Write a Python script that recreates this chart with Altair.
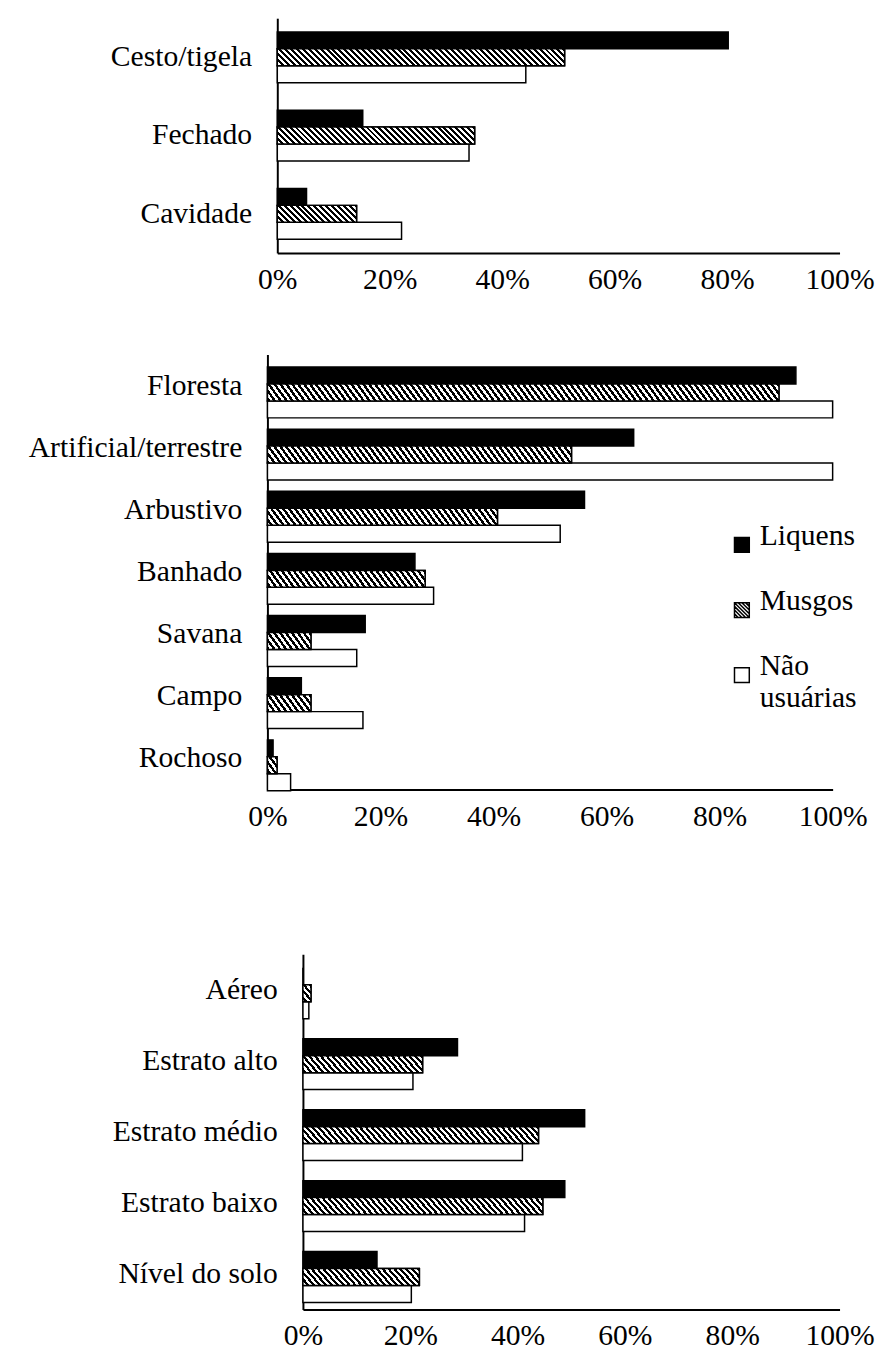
import altair as alt

FONT = "Liberation Serif"
FS = 30

series = ["Liquens", "Musgos", "Não usuárias"]
series_fill = ["#000000", "#ffffff", "#ffffff"]

ninho_cats = ["Cesto/tigela", "Fechado", "Cavidade"]
ninho_liquens = [80.2, 15.2, 5.2]
ninho_musgos = [51.1, 35.1, 14.1]
ninho_nao = [44.2, 34.1, 22.1]

hab_cats = ["Floresta", "Artificial/terrestre", "Arbustivo", "Banhado",
            "Savana", "Campo", "Rochoso"]
hab_liquens = [93.5, 64.8, 56.1, 26.1, 17.3, 6.0, 1.0]
hab_musgos = [90.5, 53.8, 40.7, 27.9, 7.7, 7.7, 1.7]
hab_nao = [100.0, 100.0, 51.8, 29.4, 15.8, 16.9, 4.1]

estr_cats = ["Aéreo", "Estrato alto", "Estrato médio", "Estrato baixo",
             "Nível do solo"]
estr_liquens = [0.0, 28.8, 52.5, 48.8, 13.8]
estr_musgos = [1.5, 22.3, 43.9, 44.7, 21.7]
estr_nao = [1.1, 20.5, 40.9, 41.3, 20.2]

tick_values = [0, 20, 40, 60, 80, 100]


def hatch(w, h, period=6.0, frac=0.5):
    """Diagonal stripe fill (style only) as a linear gradient in bbox units."""
    w = max(w, 1.0)
    L = w + h
    stops = []
    k = 0
    while k * period < L:
        a = k * period / L
        b = min((k * period + frac * period) / L, 1.0)
        c = min((k + 1) * period / L, 1.0)
        stops += [
            {"offset": round(a, 5), "color": "#000000"},
            {"offset": round(b, 5), "color": "#000000"},
            {"offset": round(b, 5), "color": "#ffffff"},
            {"offset": round(c, 5), "color": "#ffffff"},
        ]
        k += 1
    r = h / w
    ga = (1 + r) / (1 + r * r)
    gb = ga * r
    return {"gradient": "linear", "x1": 1, "y1": 0, "x2": 1 - ga, "y2": gb,
            "stops": stops}


def hatch_symbol():
    """Legend glyph: unit square with downward diagonal lines."""
    parts = ["M-1,-1H1V1H-1Z"]
    for c in (-1.5, -1.0, -0.5, 0.0, 0.5, 1.0, 1.5):
        if c >= 0:
            parts.append(f"M-1,{-1 + c:.3f}L{1 - c:.3f},1")
        else:
            parts.append(f"M{-1 - c:.3f},-1L1,{1 + c:.3f}")
    return "".join(parts)


series_shape = ["square", hatch_symbol(), "square"]


def panel(cats, liq, mus, nao, d, w, h, pi, po, legend=None):
    n = len(cats)
    step = h / (n - pi + 2 * po)
    bar_h = step * (1 - pi) / 3
    recs = []
    for i, c in enumerate(cats):
        for s, vals in zip(series, (liq, mus, nao)):
            rec = {"cat": c, "series": s, "value": vals[i]}
            if s == "Musgos":
                rec["hatch"] = hatch(vals[i] / 100 * w, bar_h)
            recs.append(rec)
    base = alt.Chart(alt.Data(values=recs))
    x = alt.X("value:Q",
              scale=alt.Scale(domain=[0, 100], range=[d, d + w]),
              axis=alt.Axis(values=tick_values, labelExpr="datum.value + '%'",
                            grid=False, ticks=False, domainColor="black",
                            domainWidth=2, labelFont=FONT, labelFontSize=FS,
                            labelColor="black", labelPadding=12,
                            labelFlush=False, labelOverlap=False, title=None))
    y = alt.Y("cat:N",
              scale=alt.Scale(domain=cats, paddingInner=pi, paddingOuter=po),
              axis=alt.Axis(offset=-d, ticks=False, domainColor="black",
                            domainWidth=2, labelFont=FONT, labelFontSize=FS,
                            labelColor="black", labelPadding=26,
                            labelLimit=500, title=None))
    yo = alt.YOffset("series:N",
                     scale=alt.Scale(domain=series, paddingInner=0,
                                     paddingOuter=0))
    fill = alt.Fill("series:N",
                    scale=alt.Scale(domain=series, range=series_fill),
                    legend=legend)
    bars = base.mark_bar(stroke="black", strokeWidth=1.5).encode(
        x=x, y=y, yOffset=yo, fill=fill)
    hatched = base.transform_filter(alt.datum.series == "Musgos").mark_bar(
        stroke="black", strokeWidth=1.5).encode(
        x=x, y=y, yOffset=yo, fill=alt.Fill("hatch:N", scale=None))
    layers = [bars, hatched]
    if legend is not None:
        # carries only the legend glyph shapes; draws no marks
        glyphs = base.transform_filter("false").mark_point(
            filled=True, opacity=1, stroke="black").encode(
            x=x, y=y, fill=fill,
            shape=alt.Shape("series:N",
                            scale=alt.Scale(domain=series, range=series_shape),
                            legend=legend))
        layers.append(glyphs)
    return alt.layer(*layers).properties(width=d + w, height=h)


leg = alt.Legend(title=None, orient="none", legendX=466, legendY=178,
                 direction="vertical", symbolSize=225,
                 symbolStrokeColor="black", symbolStrokeWidth=1.5,
                 labelFont=FONT, labelFontSize=FS, labelColor="black",
                 labelBaseline="alphabetic", labelOffset=3, rowPadding=31,
                 padding=0, labelLimit=300,
                 labelExpr="datum.label == 'Não usuárias' ? ['Não', 'usuárias'] : datum.label")

p1 = panel(ninho_cats, ninho_liquens, ninho_musgos, ninho_nao,
           d=10, w=570, h=238, pi=0.35, po=0.175)
p2 = panel(hab_cats, hab_liquens, hab_musgos, hab_nao,
           d=0, w=573, h=441, pi=0.4, po=0.2, legend=leg)
p3 = panel(estr_cats, estr_liquens, estr_musgos, estr_nao,
           d=36, w=544, h=360, pi=0.375, po=0.19)

top = alt.vconcat(p1, p2, spacing=61).resolve_scale(
    fill="independent", shape="independent").resolve_legend(
    fill="independent", shape="independent")
chart = alt.vconcat(top, p3, spacing=125).resolve_scale(
    fill="independent", shape="independent").resolve_legend(
    fill="independent", shape="independent").properties(
    padding={"left": 20, "top": 1, "right": 5, "bottom": 5},
    background="white"
).configure_view(stroke=None)

chart.save("out.html", embed_options={"renderer": "svg", "actions": False})
